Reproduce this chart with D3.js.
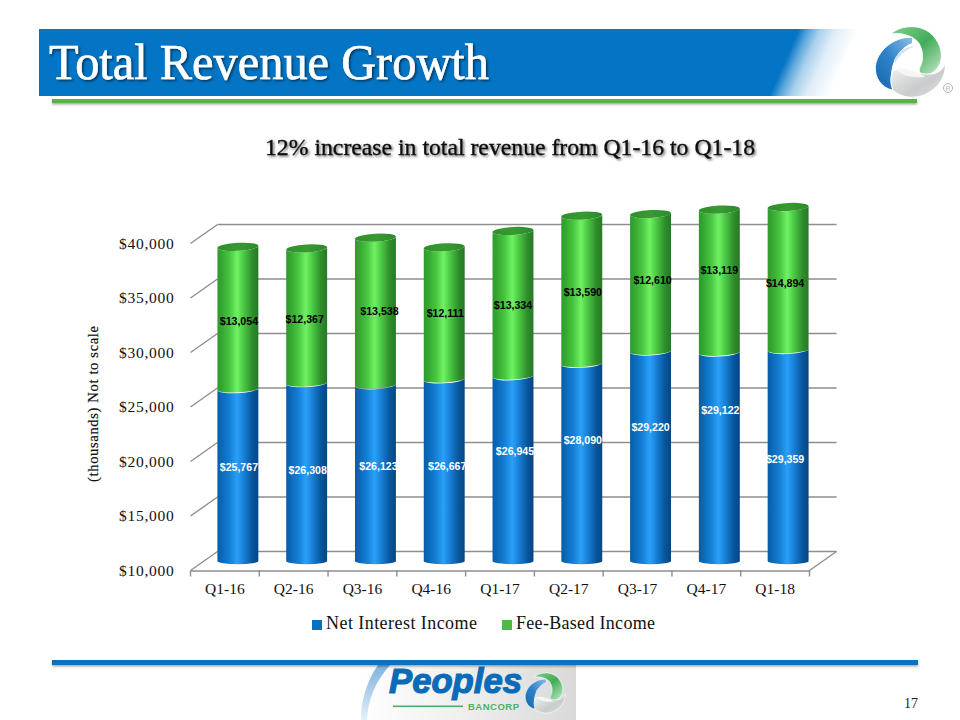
<!DOCTYPE html>
<html><head><meta charset="utf-8">
<script src="https://cdn.jsdelivr.net/npm/d3@7"></script>
<style>html,body{margin:0;padding:0;background:#fff}svg{display:block}</style>
</head><body><div id="c"></div>
<script>
const categories=["Q1-16","Q2-16","Q3-16","Q4-16","Q1-17","Q2-17","Q3-17","Q4-17","Q1-18"];
const netInterest=[25767,26308,26123,26667,26945,28090,29220,29122,29359];
const feeBased=[13054,12367,13538,12111,13334,13590,12610,13119,14894];
// Height actually drawn for the fee segment (chart is marked "not to scale": Q1-18 is truncated)
const feeDrawn=[13054,12367,13538,12111,13334,13590,12610,13119,13120];
const yTicks=[10000,15000,20000,25000,30000,35000,40000];
const seriesNames=["Net Interest Income","Fee-Based Income"];

// Layout only: the source's hand-placed data labels (offset from the bar centre / absolute row)
const netLabelDx=[1,1,3,3,2,1,0,1,-3], netLabelY=[467,470,466,466,451,440,427,410,459];
const feeLabelDx=[1,-2,4,1,0,1,2,0,-3], feeLabelY=[321,319,311,313,305,292,280,270,283];

const W=960,H=720;
const svg=d3.select("#c").append("svg").attr("width",W).attr("height",H);
const defs=svg.append("defs");
function grad(id,stops,attrs){const g=defs.append("linearGradient").attr("id",id);
  Object.entries(attrs||{}).forEach(([k,v])=>g.attr(k,v));
  stops.forEach(s=>g.append("stop").attr("offset",s[0]).attr("stop-color",s[1]).attr("stop-opacity",s[2]==null?1:s[2]));}
grad("gBlue",[[0,"#0a5ca6"],[.1,"#0a68b6"],[.3,"#1580d6"],[.48,"#2ba0f8"],[.62,"#1a84dc"],[.85,"#08569c"],[1,"#064684"]]);
grad("gGreen",[[0,"#2f9a2c"],[.1,"#34a630"],[.3,"#48c640"],[.48,"#70f264"],[.62,"#4fce47"],[.85,"#2e8e2b"],[1,"#287826"]]);
grad("gCap",[[0,"#2f8f2b"],[.5,"#389a33"],[1,"#2d8a2a"]]);
grad("gFade",[[0,"#0474c4"],[.17,"#0474c4"],[.26,"#5aa6dc"],[.36,"#a9d0ec"],[.5,"#e0edf8"],[.7,"#ffffff"]],
  {gradientUnits:"userSpaceOnUse",x1:765,y1:62,x2:860,y2:104});
grad("gFoot",[[0,"#ffffff"],[.45,"#f0f0f0"],[1,"#d9d9d9"]]);
grad("gSwoop",[[0,"#7fb2dc"],[1,"#e6f0f8"]],{x1:0,y1:0,x2:0,y2:1});
grad("gLogoG",[[0,"#7fd08a"],[.5,"#43ad5a"],[1,"#c6e8cc"]],{x1:0,y1:0,x2:1,y2:1});
grad("gLogoB",[[0,"#8fbfe6"],[.5,"#2f82c8"],[1,"#1466ad"]],{x1:1,y1:0,x2:0,y2:1});
grad("gLogoS",[[0,"#f4f4f4"],[.6,"#c9cccc"],[1,"#dfe1e1"]],{x1:0,y1:0,x2:1,y2:1});
const f1=defs.append("filter").attr("id","ts").attr("x","-5%").attr("y","-20%").attr("width","110%").attr("height","140%");
f1.append("feDropShadow").attr("dx",1.5).attr("dy",1.5).attr("stdDeviation",.8).attr("flood-color","#000").attr("flood-opacity",.55);
const f2=defs.append("filter").attr("id","ls").attr("x","-2%").attr("y","-100%").attr("width","104%").attr("height","400%");
f2.append("feDropShadow").attr("dx",0).attr("dy",1.5).attr("stdDeviation",1).attr("flood-color","#000").attr("flood-opacity",.35);

const serif="'Liberation Serif',serif", sans="'Liberation Sans',sans-serif";

/* header */
svg.append("rect").attr("x",39).attr("y",29).attr("width",720).attr("height",67).attr("fill","#0474c4");
svg.append("rect").attr("x",750).attr("y",29).attr("width",125).attr("height",67).attr("fill","url(#gFade)");
svg.append("rect").attr("x",52).attr("y",99).attr("width",865).attr("height",4).attr("fill","#5bb04a").attr("filter","url(#ls)");
svg.append("text").attr("x",49).attr("y",79).attr("font-family",serif).attr("font-size",50)
  .attr("fill","#fff").attr("stroke","#fff").attr("stroke-width",.6).attr("filter","url(#ts)")
  .attr("textLength",440).attr("lengthAdjust","spacingAndGlyphs").text("Total Revenue Growth");

function logo(g){
  const s=g.append("g").attr("stroke","#fff").attr("stroke-width",3);
  s.append("path").attr("fill","url(#gLogoG)").attr("d","M422,72 C455,42 525,38 558,88 C590,135 570,180 540,192 C518,200 505,190 508,175 C525,150 520,100 490,85 C470,72 445,68 422,72 Z");
  s.append("path").attr("fill","url(#gLogoB)").attr("d","M488,82 C430,78 380,125 376,170 C374,205 395,232 425,240 C438,225 425,215 425,195 C425,160 445,115 488,100 Z");
  g.append("path").attr("fill","#cfe3f4").attr("d","M432,150 C445,125 470,108 495,108 C470,118 448,135 436,158 Z");
  s.append("path").attr("fill","url(#gLogoS)").attr("d","M432,180 C470,175 520,200 555,190 C570,185 580,175 586,160 C590,215 540,262 485,262 C465,262 440,252 428,240 C420,215 420,195 432,180 Z");
  g.append("path").attr("fill","#f6f6f6").attr("d","M440,178 C470,172 500,185 525,200 C495,205 455,200 440,178 Z");
}
const big=svg.append("g").attr("transform","translate(750,10) scale(.3333)");logo(big);
svg.append("circle").attr("cx",948).attr("cy",88).attr("r",4.5).attr("fill","none").attr("stroke","#b5b5b5");
svg.append("text").attr("x",948).attr("y",90.5).attr("text-anchor","middle").attr("font-family",sans).attr("font-size",7).attr("fill","#b5b5b5").text("R");

svg.append("text").attr("x",510).attr("y",155).attr("text-anchor","middle").attr("font-family",serif)
  .attr("font-size",23).attr("fill","#111").attr("stroke","#111").attr("stroke-width",.35).attr("filter","url(#ts)")
  .attr("textLength",490).attr("lengthAdjust","spacingAndGlyphs").text("12% increase in total revenue from Q1-16 to Q1-18");

/* chart */
const depthX=27,depthY=-19;
const x=d3.scaleBand().domain(categories).range([190.5,809.5]);
const yFront=d3.scaleLinear().domain([10000,40000]).range([570.5,243.5]);
const yBar=v=>yFront(v)+depthY/2;
const xBar=c=>x(c)+x.bandwidth()/2+depthX/2-.5;
const barW=x.bandwidth()*.595, rx=barW/2;
const gridC="#8e8e8e";

const walls=svg.append("g").attr("stroke",gridC).attr("stroke-width",1.4).attr("fill","none");
yTicks.forEach(t=>{
  const y0=yFront(t),y1=y0+depthY;
  walls.append("line").attr("x1",190.5).attr("y1",y0).attr("x2",190.5+depthX).attr("y2",y1);
  walls.append("line").attr("x1",190.5+depthX).attr("y1",y1).attr("x2",809.5+depthX).attr("y2",y1);
});
walls.append("line").attr("x1",809.5).attr("y1",yFront(10000)).attr("x2",809.5+depthX).attr("y2",yFront(10000)+depthY);

/* axes */
const yAxis=d3.axisLeft(yFront).tickValues(yTicks).tickSize(0).tickPadding(16).tickFormat(d3.format("$,"));
const yG=svg.append("g").attr("transform","translate(190.5,0)").call(yAxis);
yG.select(".domain").remove();
yG.selectAll("text").attr("font-family",serif).attr("font-size",15.5).attr("letter-spacing",.75).attr("fill","#111");
const xAxis=d3.axisBottom(x).tickSize(0).tickPadding(12);
const xG=svg.append("g").attr("transform",`translate(0,${yFront(10000)})`).call(xAxis);
xG.select(".domain").attr("stroke",gridC).attr("stroke-width",1.4);
xG.selectAll("text").attr("font-family",serif).attr("font-size",15.5).attr("fill","#111");
[...categories.map(c=>x(c)),809.5].forEach(px=>xG.append("line").attr("x1",px).attr("x2",px).attr("y1",0).attr("y2",6).attr("stroke",gridC).attr("stroke-width",1.4));

/* cylinders: slight perspective tilt on the upper ellipses */
function cyl(g,cx,yTop,yBottom,fill,capFill,tilt,tiltB){
  const ryT=4,ryB=3.2,l=cx-rx,r=cx+rx;
  const dT=Math.sin(tilt*Math.PI/180)*rx, dB=Math.sin(tiltB*Math.PI/180)*rx;
  g.append("path").attr("fill",fill)
   .attr("d",`M${l},${yTop+dT} L${l},${yBottom+dB} A${rx},${ryB} ${-tiltB} 0 0 ${r},${yBottom-dB} L${r},${yTop-dT} A${rx},${ryT} ${-tilt} 0 1 ${l},${yTop+dT} Z`);
  if(capFill) g.append("ellipse").attr("cx",cx).attr("cy",yTop).attr("rx",rx).attr("ry",ryT).attr("fill",capFill)
    .attr("transform",`rotate(${-tilt} ${cx} ${yTop})`);
}
const bars=svg.append("g");
categories.forEach((c,i)=>{
  const cx=xBar(c), n=netInterest[i], t=n+feeDrawn[i];
  const g=bars.append("g");
  cyl(g,cx,yBar(n),yBar(10000),"url(#gBlue)",null,3,0);
  cyl(g,cx,yBar(t),yBar(n),"url(#gGreen)","url(#gCap)",3,3);
});

/* data labels */
const lab=svg.append("g").attr("font-family",sans).attr("font-size",10.6).attr("font-weight","bold").attr("text-anchor","middle");
const money=d3.format("$,");
categories.forEach((c,i)=>{
  lab.append("text").attr("x",xBar(c)+netLabelDx[i]).attr("y",netLabelY[i]+3.5).attr("fill","#fff").text(money(netInterest[i]));
  lab.append("text").attr("x",xBar(c)+feeLabelDx[i]).attr("y",feeLabelY[i]+3.5).attr("fill","#000").text(money(feeBased[i]));
});

/* y title */
svg.append("text").attr("transform","translate(98,404) rotate(-90)").attr("text-anchor","middle")
  .attr("font-family",serif).attr("font-size",14.5).attr("fill","#111").attr("stroke","#111").attr("stroke-width",.2).attr("textLength",156).text("(thousands) Not to scale");

/* legend */
const legX=[312,502],legC=["#0472c0","#4fb848"],legW=[151,139];
seriesNames.forEach((s,i)=>{
  svg.append("rect").attr("x",legX[i]).attr("y",620).attr("width",10).attr("height",10).attr("fill",legC[i]);
  svg.append("text").attr("x",legX[i]+14).attr("y",629).attr("font-family",serif).attr("font-size",18).attr("fill","#111")
    .attr("textLength",legW[i]).text(s);
});

/* footer */
svg.append("rect").attr("x",361).attr("y",665).attr("width",215).attr("height",55).attr("fill","url(#gFoot)");
svg.append("path").attr("fill","url(#gSwoop)").attr("d","M378,665 C366,682 361,702 361,720 L367,720 C368,700 375,682 390,665 Z");
svg.append("rect").attr("x",52).attr("y",660).attr("width",866).attr("height",5).attr("fill","#0a6fbe").attr("filter","url(#ls)");
svg.append("text").attr("x",389).attr("y",693).attr("font-family",sans).attr("font-weight","bold").attr("font-style","italic")
  .attr("font-size",35).attr("fill","#0a6cb8").attr("stroke","#0a6cb8").attr("stroke-width",1.2).attr("textLength",133).attr("lengthAdjust","spacingAndGlyphs").text("Peoples");
svg.append("rect").attr("x",393).attr("y",705.5).attr("width",70).attr("height",1.6).attr("fill","#4fae63");
svg.append("text").attr("x",468).attr("y",710).attr("font-family",sans).attr("font-weight","bold")
  .attr("font-size",9.5).attr("fill","#4fae63").attr("textLength",51).text("BANCORP");
const small=svg.append("g").attr("transform","translate(525,672) scale(.19) translate(-375,-45)");logo(small);
svg.append("text").attr("x",918).attr("y",708).attr("text-anchor","end").attr("font-family",serif).attr("font-size",14).attr("fill","#222").text("17");
</script></body></html>
